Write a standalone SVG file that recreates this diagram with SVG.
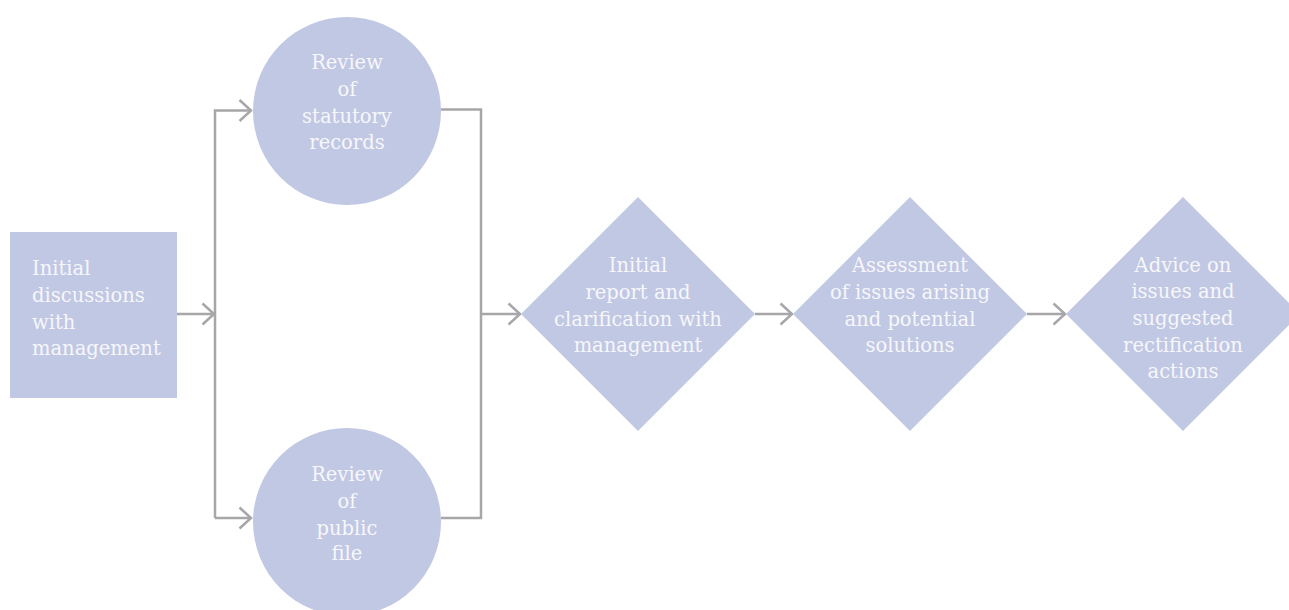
<svg xmlns="http://www.w3.org/2000/svg" width="1289" height="610" viewBox="0 0 1289 610">
<style>
.node{fill:#c1c8e4;}
.lbl{font-family:"DejaVu Serif","Liberation Serif",serif;font-size:19.5px;fill:#f7f7fb;font-weight:300;}
.c{text-anchor:middle;}
.conn{fill:none;stroke:#a7a7aa;stroke-width:2.5;}
</style>
<defs>
<marker id="arr" markerUnits="userSpaceOnUse" markerWidth="16" markerHeight="26" refX="13" refY="12" orient="auto">
<path d="M1.5,1.5 L13,12 L1.5,22.5" fill="none" stroke="#a7a7aa" stroke-width="2.5"/>
</marker>
</defs>
<rect width="1289" height="610" fill="#ffffff"/>
<g id="connectors">
<line class="conn" x1="177" y1="314" x2="214" y2="314" marker-end="url(#arr)"/>
<polyline class="conn" points="215,518 215,110.5 251,110.5" marker-end="url(#arr)"/>
<polyline class="conn" points="215,518 251,518" marker-end="url(#arr)"/>
<polyline class="conn" points="441,109.5 481,109.5 481,518 441,518"/>
<line class="conn" x1="481" y1="314" x2="520" y2="314" marker-end="url(#arr)"/>
<line class="conn" x1="755" y1="314" x2="792" y2="314" marker-end="url(#arr)"/>
<line class="conn" x1="1027" y1="314" x2="1065" y2="314" marker-end="url(#arr)"/>
</g>
<g id="n1">
<rect class="node" x="10" y="232" width="167" height="166"/>
<text class="lbl" x="32"><tspan x="32" y="275">Initial</tspan><tspan x="32" y="302">discussions</tspan><tspan x="32" y="329">with</tspan><tspan x="32" y="355">management</tspan></text>
</g>
<g id="n2">
<circle class="node" cx="347" cy="111" r="94"/>
<text class="lbl c"><tspan x="347" y="69">Review</tspan><tspan x="347" y="96">of</tspan><tspan x="347" y="123">statutory</tspan><tspan x="347" y="149">records</tspan></text>
</g>
<g id="n3">
<circle class="node" cx="347" cy="522" r="94"/>
<text class="lbl c"><tspan x="347" y="481">Review</tspan><tspan x="347" y="508">of</tspan><tspan x="347" y="535">public</tspan><tspan x="347" y="560">file</tspan></text>
</g>
<g id="n4">
<polygon class="node" points="638,197 755,314 638,431 521,314"/>
<text class="lbl c"><tspan x="638" y="272">Initial</tspan><tspan x="638" y="299">report and</tspan><tspan x="638" y="326">clarification with</tspan><tspan x="638" y="352">management</tspan></text>
</g>
<g id="n5">
<polygon class="node" points="910,197 1027,314 910,431 793,314"/>
<text class="lbl c"><tspan x="910" y="272">Assessment</tspan><tspan x="910" y="299">of issues arising</tspan><tspan x="910" y="326">and potential</tspan><tspan x="910" y="352">solutions</tspan></text>
</g>
<g id="n6">
<polygon class="node" points="1183,197 1300,314 1183,431 1066,314"/>
<text class="lbl c"><tspan x="1183" y="272">Advice on</tspan><tspan x="1183" y="298">issues and</tspan><tspan x="1183" y="325">suggested</tspan><tspan x="1183" y="352">rectification</tspan><tspan x="1183" y="378">actions</tspan></text>
</g>
</svg>
